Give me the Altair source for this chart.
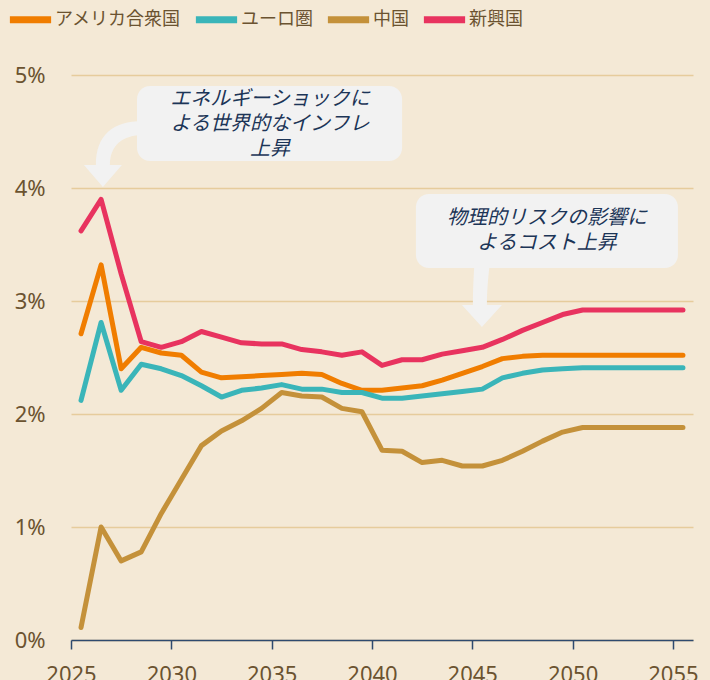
import altair as alt
import pandas as pd

# ---- data ----
years = list(range(2025, 2056))
series_names = ["アメリカ合衆国", "ユーロ圏", "中国", "新興国"]
colors = ["#F07D00", "#3AB5B9", "#C4913A", "#E8335F"]

usa = [2.71, 3.32, 2.40, 2.59, 2.54, 2.52, 2.37, 2.32, 2.33, 2.34,
       2.35, 2.36, 2.35, 2.27, 2.21, 2.21, 2.23, 2.25, 2.30, 2.36,
       2.42, 2.49, 2.51, 2.52, 2.52, 2.52, 2.52, 2.52, 2.52, 2.52, 2.52]
euro = [2.12, 2.81, 2.21, 2.44, 2.40, 2.34, 2.25, 2.15, 2.21, 2.23,
        2.26, 2.22, 2.22, 2.19, 2.19, 2.14, 2.14, 2.16, 2.18, 2.20,
        2.22, 2.32, 2.36, 2.39, 2.40, 2.41, 2.41, 2.41, 2.41, 2.41, 2.41]
china = [0.11, 1.00, 0.70, 0.78, 1.12, 1.42, 1.72, 1.85, 1.94, 2.05,
         2.19, 2.16, 2.15, 2.05, 2.02, 1.68, 1.67, 1.57, 1.59, 1.54,
         1.54, 1.59, 1.67, 1.76, 1.84, 1.88, 1.88, 1.88, 1.88, 1.88, 1.88]
emerging = [3.62, 3.90, 3.24, 2.64, 2.59, 2.64, 2.73, 2.68, 2.63, 2.62,
            2.62, 2.57, 2.55, 2.52, 2.55, 2.43, 2.48, 2.48, 2.53, 2.56,
            2.59, 2.66, 2.74, 2.81, 2.88, 2.92, 2.92, 2.92, 2.92, 2.92, 2.92]

x_ticks = [2025, 2030, 2035, 2040, 2045, 2050, 2055]
y_ticks = [0, 1, 2, 3, 4, 5]

# annotations
note_lines = ["エネルギーショックに", "よる世界的なインフレ", "上昇",
              "物理的リスクの影響に", "よるコスト上昇"]
note_x = [2034.92, 2034.92, 2034.92, 2048.72, 2048.72]
note_y = [4.79, 4.568, 4.347, 3.735, 3.513]

box_x = [2028.29, 2042.19]
box_x2 = [2041.50, 2055.25]
box_y = [4.903, 3.947]
box_y2 = [4.239, 3.292]

arrow_id = ["a1", "a2"]
arrow_x = [2026.59, 2045.48]
arrow_y = [4.009, 2.770]
arrow_paths = [
    "M 40 -66 C 10 -66 -7 -52 -7 -22 L -19 -22 L 0 0 L 19 -22 L 7 -22 C 7 -42 20 -52 40 -52 Z",
    "M -7 -72 L 9 -72 C 6 -50 5 -35 5 -22 L 20 -22 L 0 0 L -20 -22 L -9 -22 C -9 -40 -8 -55 -7 -72 Z",
]

BG = "#F4E9D6"

# page background (outside the svg) in the same beige as the chart; the
# window simply crops the chart at its bottom edge, as in the reference
try:
    import altair.utils.html as _h

    class _BgTemplate:
        def __init__(self, t):
            self.t = t

        def render(self, *a, **kw):
            out = self.t.render(*a, **kw)
            css = "<style>html,body{background:%s;overflow:hidden;}</style>" % BG
            return out.replace("<head>", "<head>" + css, 1)

    _h.TEMPLATES["standard"] = _BgTemplate(_h.TEMPLATES["standard"])
except Exception:
    pass

# ---- tables ----
rows = []
for name, vals in zip(series_names, [usa, euro, china, emerging]):
    for yr, v in zip(years, vals):
        rows.append({"year": yr, "value": v, "series": name})
df = pd.DataFrame(rows)
notes = pd.DataFrame({"text": note_lines, "x": note_x, "y": note_y})
boxes = pd.DataFrame({"x": box_x, "x2": box_x2, "y": box_y, "y2": box_y2})
arrows = pd.DataFrame({"id": arrow_id, "x": arrow_x, "y": arrow_y})

TEXT = "#6B5330"
NAVY = "#2E4A6E"
FONT = "Noto Sans, Noto Sans CJK JP"

x_scale = alt.Scale(domain=[2025, 2056], nice=False, zero=False)
y_scale = alt.Scale(domain=[0, 5], nice=False)

x_axis = alt.Axis(values=x_ticks, format="d", grid=False,
                  domainColor=NAVY, domainWidth=1.5,
                  tickColor=NAVY, tickWidth=1.5, tickSize=9,
                  labelFontSize=22, labelColor=TEXT, labelFont=FONT,
                  labelPadding=15, labelFlush=False)
y_axis = alt.Axis(values=y_ticks, labelExpr="datum.value + '%'",
                  domain=False, ticks=False, grid=True,
                  gridColor="#E6CC9C", gridWidth=1.5,
                  labelFontSize=22, labelColor=TEXT, labelFont=FONT,
                  labelPadding=26)

lines = alt.Chart(df).transform_calculate(
    xpos="datum.year + 0.5"
).mark_line(strokeWidth=5, strokeCap="round", strokeJoin="round").encode(
    x=alt.X("xpos:Q", scale=x_scale, title=None, axis=x_axis),
    y=alt.Y("value:Q", scale=y_scale, title=None, axis=y_axis),
    color=alt.Color("series:N",
                    scale=alt.Scale(domain=series_names, range=colors),
                    legend=alt.Legend(orient="none", legendX=-65, legendY=-80,
                                      direction="horizontal", columns=4,
                                      title=None, symbolType="stroke",
                                      symbolSize=1700, symbolStrokeWidth=7,
                                      labelFontSize=18, labelColor=TEXT,
                                      labelFont="Noto Sans CJK JP",
                                      labelOffset=0, columnPadding=0)),
)

arrow_layer = alt.Chart(arrows).mark_point(
    filled=True, size=4, opacity=1, color="#F2F2F2", strokeWidth=0
).encode(
    x=alt.X("x:Q", scale=x_scale, title=None, axis=x_axis),
    y=alt.Y("y:Q", scale=y_scale, title=None, axis=y_axis),
    shape=alt.Shape("id:N", scale=alt.Scale(domain=arrow_id, range=arrow_paths), legend=None),
)

box_layer = alt.Chart(boxes).mark_rect(cornerRadius=13, color="#F2F2F2").encode(
    x=alt.X("x:Q", scale=x_scale, title=None, axis=x_axis),
    x2="x2:Q",
    y=alt.Y("y:Q", scale=y_scale, title=None, axis=y_axis),
    y2="y2:Q",
)

text_layer = alt.Chart(notes).mark_text(
    font="Noto Sans CJK JP", fontSize=20, fontStyle="italic",
    color="#1C3557", align="center", baseline="middle"
).encode(
    x=alt.X("x:Q", scale=x_scale, title=None, axis=x_axis),
    y=alt.Y("y:Q", scale=y_scale, title=None, axis=y_axis),
    text="text:N",
)

chart = alt.layer(lines, arrow_layer, box_layer, text_layer).properties(
    width=622, height=565,
    background=BG,
    padding={"left": 63, "top": 67, "right": 8, "bottom": 45},
    autosize=alt.AutoSizeParams(type="none"),
).configure_view(stroke=None)

chart.save("out.html", embed_options={"renderer": "svg", "actions": False})
